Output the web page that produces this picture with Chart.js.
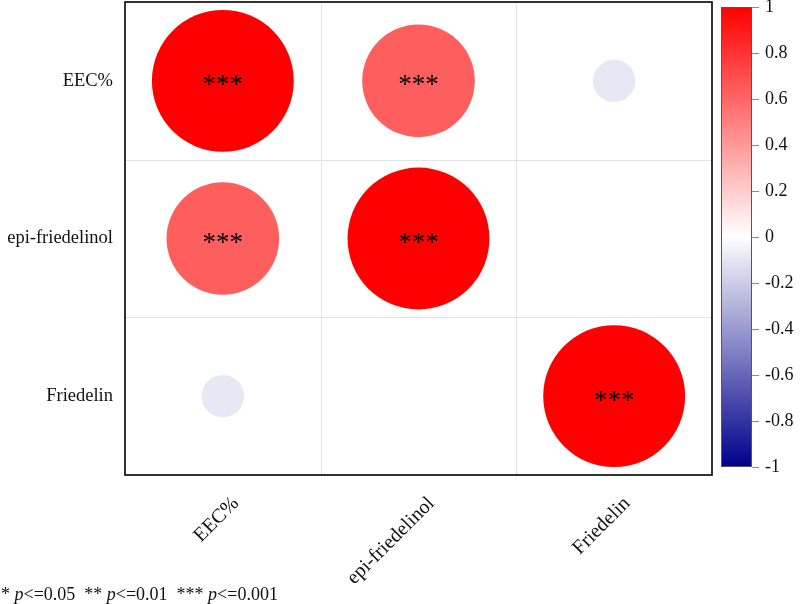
<!DOCTYPE html>
<html>
<head>
<meta charset="utf-8">
<script src="https://cdn.jsdelivr.net/npm/chart.js@4/dist/chart.umd.min.js"></script>
<style>
  html, body { margin: 0; padding: 0; background: #ffffff; }
  #wrap { width: 800px; height: 604px; position: relative; }
</style>
</head>
<body>
<div id="wrap"><canvas id="c" width="800" height="604"></canvas></div>
<script>
// ---- data ----
const variables = ["EEC%", "epi-friedelinol", "Friedelin"];
const rowEEC = [1.00, 0.63, -0.09];
const rowEpi = [0.63, 1.00, 0.00];
const rowFriedelin = [-0.09, 0.00, 1.00];
const sigEEC = ["***", "***", ""];
const sigEpi = ["***", "***", ""];
const sigFriedelin = ["", "", "***"];
const colorbarTicks = [1, 0.8, 0.6, 0.4, 0.2, 0, -0.2, -0.4, -0.6, -0.8, -1];
const footnote = [["* ", false], ["p", true], ["<=0.05  ** ", false], ["p", true], ["<=0.01  *** ", false], ["p", true], ["<=0.001", false]];

const corrRows = [rowEEC, rowEpi, rowFriedelin];
const sigRows = [sigEEC, sigEpi, sigFriedelin];

const points = [];
corrRows.forEach((row, i) => row.forEach((v, j) => {
  points.push({ x: j + 1, y: i + 1, v: v, sig: sigRows[i][j] });
}));

// layout sizes (px)
const AXIS_LEFT_W = 125, AXIS_BOTTOM_H = 129, CB_W = 88, PAD_TOP = 2;

function corrColor(v) {
  if (v >= 0) {
    const g = Math.round(255 * (1 - v));
    return `rgb(255,${g},${g})`;
  }
  const t = -v;
  const rg = Math.round(255 * (1 - t));
  const b = Math.round(255 - t * (255 - 139));
  return `rgb(${rg},${rg},${b})`;
}

const SERIF = "'Liberation Serif', 'Times New Roman', serif";

const matrixPlugin = {
  id: 'matrixDecor',
  beforeDatasetsDraw(chart) {
    const ctx = chart.ctx;
    const xs = chart.scales.x, ys = chart.scales.y;
    const a = chart.chartArea;
    ctx.save();
    ctx.strokeStyle = '#e3e3e3';
    ctx.lineWidth = 1;
    [1.5, 2.5].forEach(b => {
      const px = Math.round(xs.getPixelForValue(b)) + 0.5;
      ctx.beginPath(); ctx.moveTo(px, a.top); ctx.lineTo(px, a.bottom); ctx.stroke();
      const py = Math.round(ys.getPixelForValue(b)) + 0.5;
      ctx.beginPath(); ctx.moveTo(a.left, py); ctx.lineTo(a.right, py); ctx.stroke();
    });
    ctx.restore();
  },
  afterDatasetsDraw(chart) {
    const ctx = chart.ctx;
    const xs = chart.scales.x, ys = chart.scales.y;
    const a = chart.chartArea;
    ctx.save();
    ctx.fillStyle = '#000';
    ctx.font = `27px ${SERIF}`;
    ctx.textAlign = 'center';
    ctx.textBaseline = 'alphabetic';
    points.forEach(p => {
      if (!p.sig) return;
      const cx = xs.getPixelForValue(p.x), cy = ys.getPixelForValue(p.y);
      const m = ctx.measureText(p.sig);
      const yb = cy + (m.actualBoundingBoxAscent - m.actualBoundingBoxDescent) / 2;
      ctx.fillText(p.sig, cx, yb);
    });
    ctx.strokeStyle = '#000';
    ctx.lineWidth = 1.6;
    ctx.strokeRect(a.left, a.top, a.right - a.left, a.bottom - a.top);
    ctx.restore();
  },
  afterDraw(chart) {
    const ctx = chart.ctx;
    const cb = chart.scales.cb;
    ctx.save();
    const x0 = 721, x1 = 752;
    const yTop = cb.getPixelForValue(1), yBot = cb.getPixelForValue(-1);
    const grad = ctx.createLinearGradient(0, yTop, 0, yBot);
    for (let k = 0; k <= 20; k++) {
      grad.addColorStop(k / 20, corrColor(1 - k * 0.1));
    }
    ctx.fillStyle = grad;
    ctx.fillRect(x0, yTop, x1 - x0, yBot - yTop);
    ctx.strokeStyle = '#555';
    ctx.lineWidth = 1;
    ctx.strokeRect(x0 + 0.5, yTop + 0.5, x1 - x0 - 1, yBot - yTop - 1);
    ctx.strokeStyle = '#888';
    colorbarTicks.forEach(v => {
      const y = Math.round(cb.getPixelForValue(v)) + 0.5;
      ctx.beginPath(); ctx.moveTo(x1, y); ctx.lineTo(x1 + 7, y); ctx.stroke();
    });
    let fx = 1;
    const fy = 600;
    ctx.fillStyle = '#111';
    ctx.textAlign = 'left';
    ctx.textBaseline = 'alphabetic';
    footnote.forEach(([t, it]) => {
      ctx.font = `${it ? 'italic ' : ''}18px ${SERIF}`;
      ctx.fillText(t, fx, fy);
      fx += ctx.measureText(t).width;
    });
    ctx.restore();
  }
};

function cellSize(chart) {
  const a = chart.chartArea;
  if (a && a.right > a.left) {
    return [(a.right - a.left) / 3, (a.bottom - a.top) / 3];
  }
  return [(chart.width - AXIS_LEFT_W - CB_W) / 3, (chart.height - PAD_TOP - AXIS_BOTTOM_H) / 3];
}

new Chart(document.getElementById('c'), {
  type: 'bubble',
  data: {
    datasets: [{
      data: points,
      backgroundColor: ctx => corrColor(ctx.raw ? ctx.raw.v : 0),
      borderWidth: 0,
      hoverBorderWidth: 0,
      hoverRadius: 0,
      clip: false,
      radius: ctx => {
        const p = ctx.raw;
        if (!p) return 0;
        const [cw, ch] = cellSize(ctx.chart);
        return Math.sqrt(Math.abs(p.v)) * 0.9 * Math.min(cw, ch) / 2;
      }
    }]
  },
  options: {
    responsive: false,
    animation: false,
    events: [],
    layout: { autoPadding: false, padding: { top: PAD_TOP, left: 0, right: 0, bottom: 0 } },
    plugins: { legend: { display: false }, tooltip: { enabled: false } },
    scales: {
      x: {
        type: 'linear', position: 'bottom', min: 0.5, max: 3.5,
        afterBuildTicks: s => { s.ticks = variables.map((_, i) => ({ value: i + 1 })); },
        afterFit: s => { s.height = AXIS_BOTTOM_H; s.paddingLeft = 0; s.paddingRight = 0; },
        grid: { display: false, drawTicks: false },
        border: { display: false },
        ticks: {
          callback: (v) => variables[Math.round(v) - 1],
          minRotation: 45, maxRotation: 45,
          labelOffset: 13, padding: 17,
          color: '#111', font: { family: SERIF, size: 20 }
        }
      },
      y: {
        type: 'linear', position: 'left', min: 0.5, max: 3.5, reverse: true,
        afterBuildTicks: s => { s.ticks = variables.map((_, i) => ({ value: i + 1 })); },
        afterFit: s => { s.width = AXIS_LEFT_W; s.paddingTop = 0; s.paddingBottom = 0; },
        grid: { display: false, drawTicks: false },
        border: { display: false },
        ticks: {
          callback: (v) => variables[Math.round(v) - 1],
          padding: 12,
          color: '#111', font: { family: SERIF, size: 18.5 }
        }
      },
      cb: {
        type: 'linear', position: 'right', min: -1.035, max: 1.022,
        afterBuildTicks: s => { s.ticks = colorbarTicks.map(v => ({ value: v })); },
        afterFit: s => { s.width = CB_W; s.paddingTop = 0; s.paddingBottom = 0; },
        grid: { display: false, drawTicks: false, drawOnChartArea: false },
        border: { display: false },
        ticks: {
          callback: (v) => String(v),
          padding: 53,
          color: '#111', font: { family: SERIF, size: 18 }
        }
      }
    }
  },
  plugins: [matrixPlugin]
});
</script>
</body>
</html>
